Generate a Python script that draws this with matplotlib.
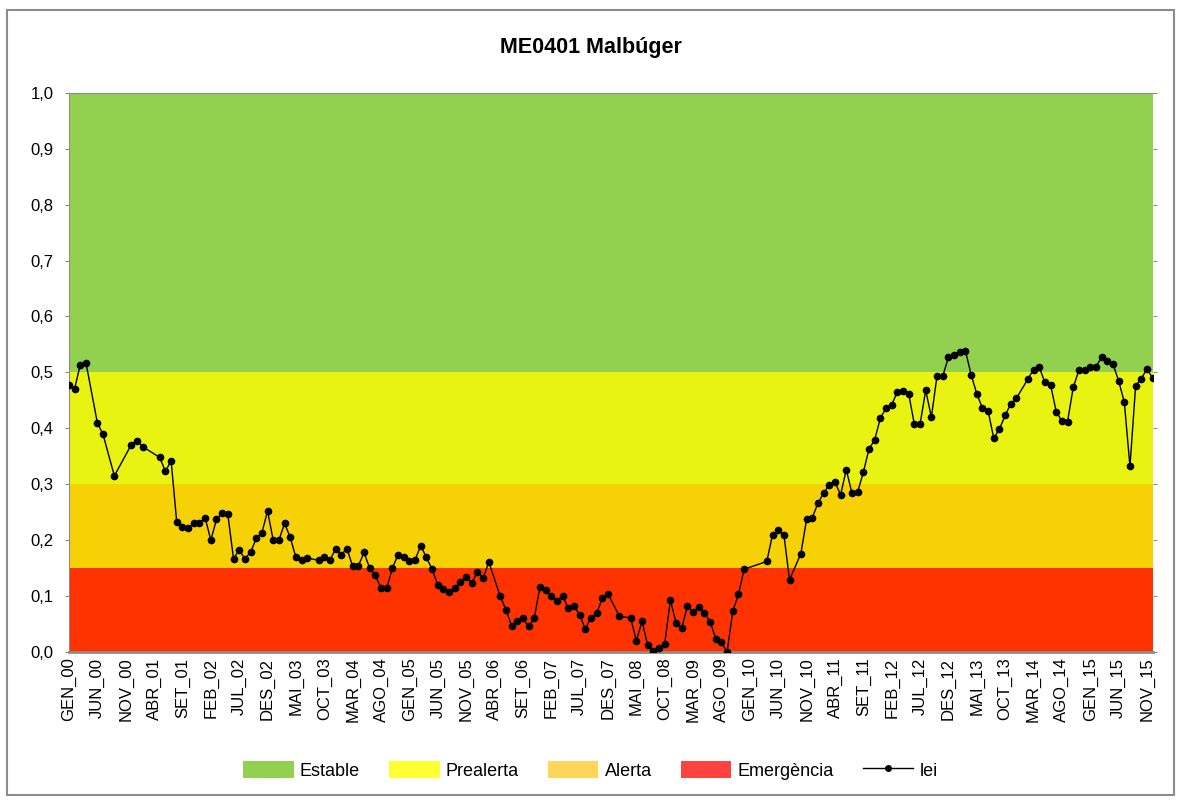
import matplotlib
matplotlib.use("Agg")
import matplotlib.pyplot as plt
from matplotlib.patches import Patch, Rectangle
from matplotlib.lines import Line2D

plt.rcParams['font.family'] = ['Liberation Sans Narrow', 'Liberation Sans', 'DejaVu Sans']

# month index (0 = GEN_00) and index value; missing months are skipped
months = [0, 1, 2, 3, 5, 6, 8, 11, 12, 13, 16, 17, 18, 19, 20, 21, 22, 23, 24, 25,
          26, 27, 28, 29, 30, 31, 32, 33, 34, 35, 36, 37, 38, 39, 40, 41, 42, 44, 45, 46,
          47, 48, 49, 50, 51, 52, 53, 54, 55, 56, 57, 58, 59, 60, 61, 62, 63, 64, 65, 66,
          67, 68, 69, 70, 71, 72, 73, 74, 76, 77, 78, 79, 80, 81, 82, 83, 84, 85, 86, 87,
          88, 89, 90, 91, 92, 93, 94, 95, 97, 99, 100, 101, 102, 103, 104, 105, 106, 107, 108, 109,
          110, 111, 112, 113, 114, 115, 116, 117, 118, 119, 123, 124, 125, 126, 127, 129, 130, 131, 132, 133,
          134, 135, 136, 137, 138, 139, 140, 141, 142, 143, 144, 145, 146, 147, 148, 149, 150, 151, 152, 153,
          154, 155, 156, 157, 158, 159, 160, 161, 162, 163, 164, 165, 166, 167, 169, 170, 171, 172, 173, 174,
          175, 176, 177, 178, 179, 180, 181, 182, 183, 184, 185, 186, 187, 188, 189, 190, 191]
lei = [0.478, 0.471, 0.514, 0.517, 0.410, 0.389, 0.315, 0.371, 0.378, 0.367, 0.348, 0.323, 0.342, 0.232, 0.224, 0.221, 0.230, 0.231, 0.240, 0.200,
       0.237, 0.249, 0.246, 0.167, 0.182, 0.167, 0.178, 0.203, 0.213, 0.252, 0.200, 0.200, 0.230, 0.205, 0.169, 0.164, 0.168, 0.164, 0.169, 0.164,
       0.185, 0.174, 0.185, 0.153, 0.154, 0.178, 0.150, 0.137, 0.114, 0.114, 0.150, 0.174, 0.169, 0.163, 0.165, 0.190, 0.169, 0.148, 0.120, 0.113,
       0.107, 0.114, 0.126, 0.134, 0.124, 0.143, 0.132, 0.161, 0.100, 0.076, 0.047, 0.055, 0.060, 0.046, 0.060, 0.116, 0.111, 0.101, 0.091, 0.101,
       0.078, 0.082, 0.067, 0.041, 0.061, 0.069, 0.096, 0.104, 0.064, 0.061, 0.020, 0.055, 0.012, 0.002, 0.008, 0.015, 0.093, 0.052, 0.043, 0.082,
       0.072, 0.080, 0.070, 0.054, 0.024, 0.017, 0.000, 0.073, 0.103, 0.148, 0.162, 0.210, 0.218, 0.210, 0.129, 0.176, 0.237, 0.240, 0.266, 0.284,
       0.299, 0.304, 0.281, 0.326, 0.284, 0.286, 0.321, 0.363, 0.379, 0.418, 0.436, 0.442, 0.465, 0.467, 0.462, 0.407, 0.407, 0.468, 0.420, 0.494,
       0.493, 0.527, 0.531, 0.537, 0.539, 0.496, 0.462, 0.436, 0.431, 0.382, 0.399, 0.423, 0.444, 0.454, 0.488, 0.505, 0.510, 0.482, 0.478, 0.430,
       0.413, 0.412, 0.473, 0.504, 0.504, 0.509, 0.510, 0.527, 0.520, 0.515, 0.485, 0.447, 0.332, 0.476, 0.489, 0.506, 0.490]

tick_labels = ['GEN_00', 'JUN_00', 'NOV_00', 'ABR_01', 'SET_01', 'FEB_02', 'JUL_02', 'DES_02',
               'MAI_03', 'OCT_03', 'MAR_04', 'AGO_04', 'GEN_05', 'JUN_05', 'NOV_05', 'ABR_06',
               'SET_06', 'FEB_07', 'JUL_07', 'DES_07', 'MAI_08', 'OCT_08', 'MAR_09', 'AGO_09',
               'GEN_10', 'JUN_10', 'NOV_10', 'ABR_11', 'SET_11', 'FEB_12', 'JUL_12', 'DES_12',
               'MAI_13', 'OCT_13', 'MAR_14', 'AGO_14', 'GEN_15', 'JUN_15', 'NOV_15']

band_names = ['Estable', 'Prealerta', 'Alerta', 'Emergència']
band_limits = [(0.5, 1.0), (0.3, 0.5), (0.15, 0.3), (0.0, 0.15)]
band_colors = ['#92D050', '#E9F312', '#F5D106', '#FF3300']
legend_colors = ['#92D050', '#FFFF33', '#FFD55A', '#FF4343']

fig = plt.figure(figsize=(11.81, 8), dpi=100)
fig.patches.append(Rectangle((0.006, 0.006), 0.988, 0.981, transform=fig.transFigure,
                             fill=False, edgecolor='#8c8c8c', linewidth=1.5))
ax = fig.add_axes([0.0584, 0.185, 0.9176, 0.699])

for (lo, hi), c in zip(band_limits, band_colors):
    ax.axhspan(lo, hi, color=c, lw=0, zorder=0)

ax.plot(months, lei, color='black', lw=1, marker='o', markersize=4.5, zorder=3)

ax.set_xlim(0, 191)
ax.set_ylim(0, 1.0)
ax.set_yticks([i / 10 for i in range(11)])
ax.set_yticklabels([f'{i / 10:.1f}'.replace('.', ',') for i in range(11)], fontsize=12)
ax.set_xticks(range(0, 191, 5))
ax.set_xticklabels(tick_labels, rotation=90, fontsize=12)
ax.tick_params(axis='y', length=3, color='#8c8c8c', right=True, direction='out', pad=8)
ax.tick_params(axis='x', length=0, pad=4)
for s in ['left', 'top', 'bottom']:
    ax.spines[s].set_color('#8c8c8c')
ax.spines['bottom'].set_linewidth(2)
ax.spines['right'].set_visible(False)

fig.text(0.5, 0.94, 'ME0401 Malbúger', ha='center', va='center', fontsize=15.5,
         fontweight='bold', family=['Liberation Sans', 'DejaVu Sans'])

handles = [Patch(facecolor=c, edgecolor='none') for c in legend_colors]
handles.append(Line2D([], [], color='black', lw=1, marker='o', markersize=4))
fig.legend(handles, band_names + ['lei'], loc='center', bbox_to_anchor=(0.5, 0.037),
           ncol=5, frameon=False, fontsize=13, handlelength=2.8, handleheight=1.1,
           columnspacing=1.6, handletextpad=0.35)

fig.savefig('out.png', dpi=100)
